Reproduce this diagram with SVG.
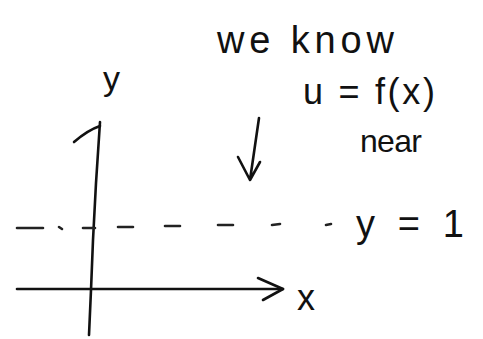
<svg xmlns="http://www.w3.org/2000/svg" width="483" height="339" viewBox="0 0 483 339">
<style>
.ink{fill:none;stroke:#111;stroke-width:2.6;stroke-linecap:round;stroke-linejoin:round}
.dash{fill:none;stroke:#222;stroke-width:2.6;stroke-linecap:round}
.t{font-family:"Liberation Sans","DejaVu Sans",sans-serif;fill:#111}
</style>
<rect width="483" height="339" fill="#fff"/>
<g id="connectors">
<g id="y-axis">
<path class="ink" d="M89,335 L91,290 L93,240 L96,183 L100,122"/>
<path class="ink" d="M74,142 Q88,130 100,126"/>
</g>
<g id="x-axis">
<path class="ink" d="M17,289 L283,289"/>
<path class="ink" d="M258,278 L283,289 L263,300"/>
</g>
<g id="arrow-down">
<path class="ink" d="M259,118 L250,180 L238,157 M250,180 L260,162"/>
</g>
<g id="line-y1">
<path class="dash" d="M17,228 L43,228 M59,227 L62,229 M83,228 L95,228 M118,227 L133,227 M165,226 L180,226 M218,225 L233,225 M272,225 L280,224 M326,225 L331,224"/>
</g>
</g>
<g id="label-y"><text class="t" x="103" y="90" font-size="34">y</text></g>
<g id="label-x"><text class="t" x="297" y="310" font-size="36">x</text></g>
<g id="label-y1"><text class="t" x="356" y="237" font-size="38" textLength="108" lengthAdjust="spacing">y = 1</text></g>
<g id="note">
<text class="t" x="217" y="53" font-size="38" textLength="177" lengthAdjust="spacing">we know</text>
<text class="t" x="303" y="104" font-size="36" textLength="132" lengthAdjust="spacing">u = f(x)</text>
<text class="t" x="360" y="152" font-size="32" textLength="62" lengthAdjust="spacing">near</text>
</g>
</svg>
